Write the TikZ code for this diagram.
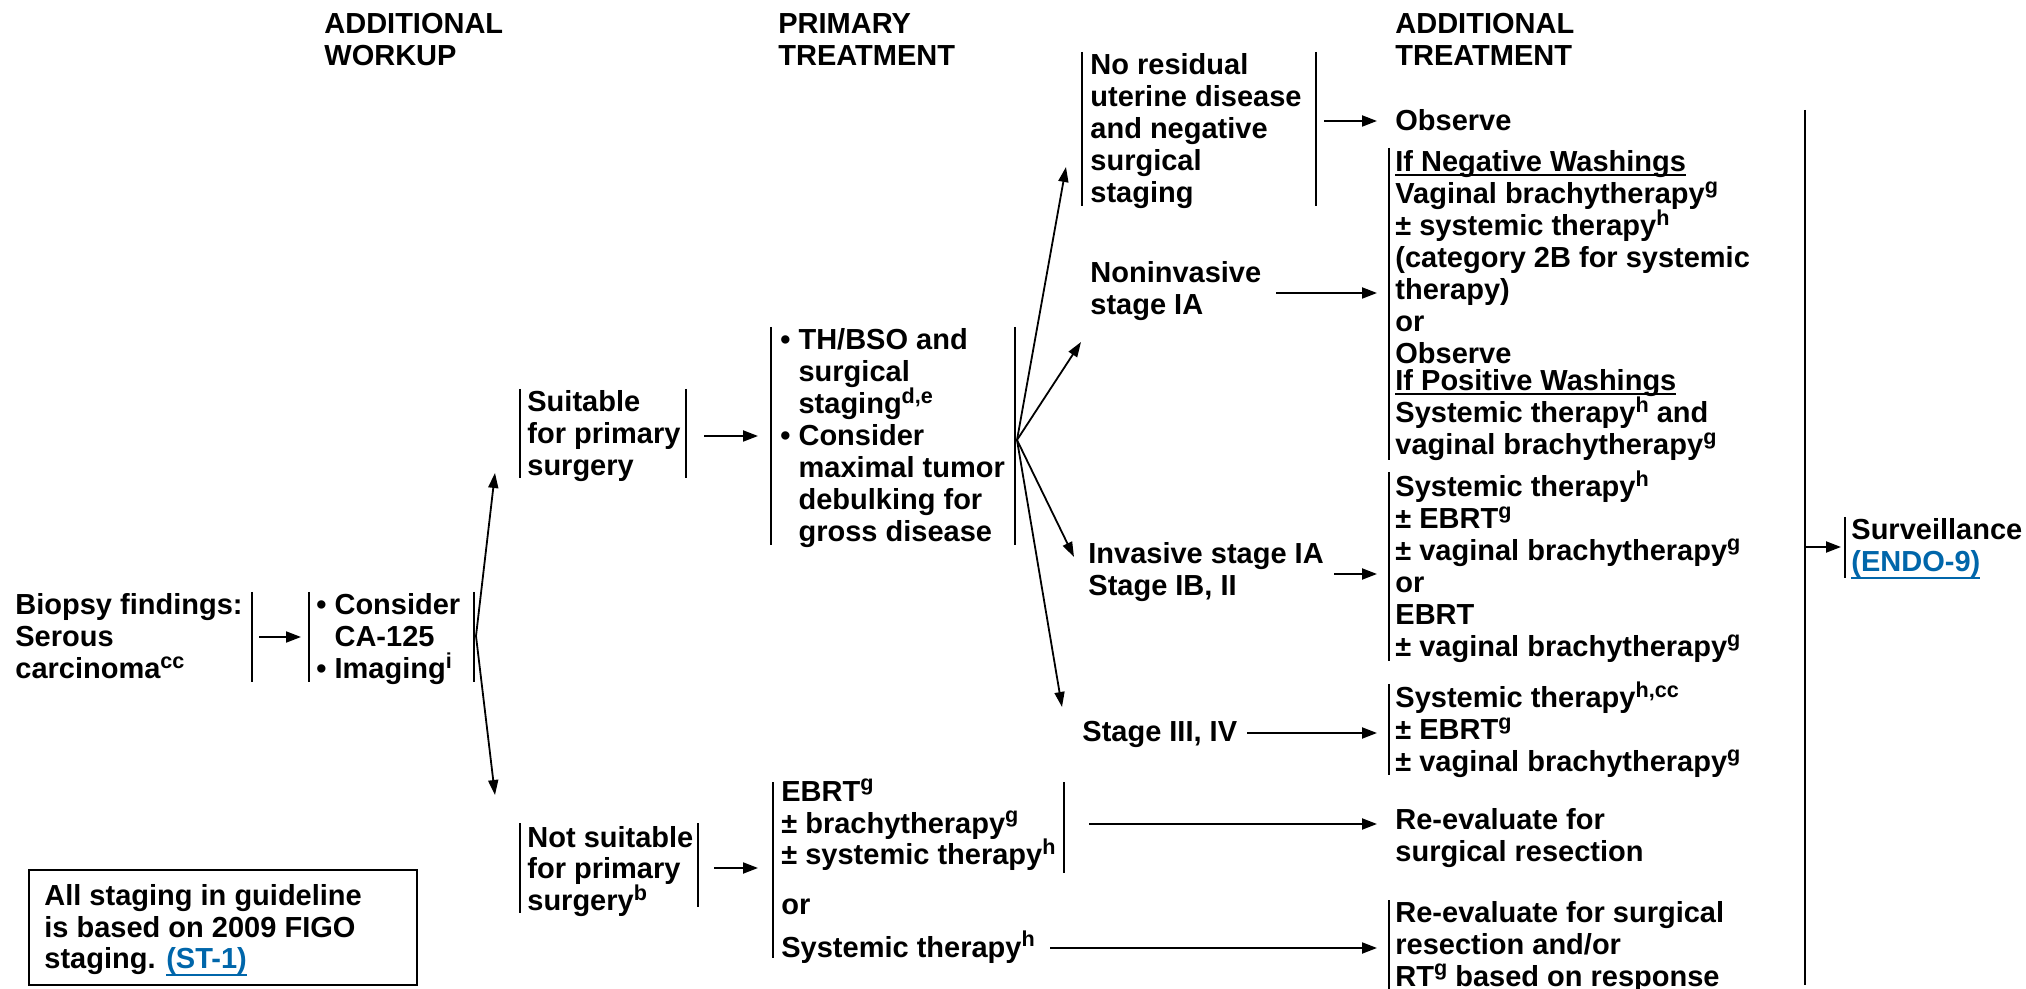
\documentclass[tikz,border=0pt]{standalone}
\usepackage{fontspec}
\setmainfont{Liberation Sans}
\usetikzlibrary{arrows.meta}
\definecolor{linkblue}{RGB}{0,102,170}
\newcommand\sups[1]{\smash{\raisebox{5.3pt}{\fontsize{10.8}{10.8}\selectfont #1}}}
\newcommand\blk[1]{\begin{tabular}[t]{@{}l@{}}#1\end{tabular}}
\newcommand\ulin[2]{{\setbox0\hbox{#2}\rlap{\rule[#1]{\wd0}{0.9pt}}\box0}}
\newcommand\lnk[1]{\textcolor{linkblue}{\ulin{-3.6pt}{#1}}}
\newcommand\ind{\hphantom{• }}
\begin{document}
\begin{tikzpicture}[x=0.5pt,y=-0.5pt,
  txt/.style={inner sep=0pt,anchor=base west,font=\fontsize{14.5}{16}\selectfont\bfseries},
  brk/.style={line width=1pt},
  arr/.style={line width=1pt,-{Triangle[length=7.5pt,width=5.5pt]}},
  fan/.style={line width=0.9pt,-{Triangle[length=7.5pt,width=5pt]}}]
\useasboundingbox (0,0) rectangle (2026,989);

% headers
\node[txt] (h1) at (324,34) {\blk{ADDITIONAL\\WORKUP}};
\node[txt] (h2) at (778,34) {\blk{PRIMARY\\TREATMENT}};
\node[txt] (h3) at (1395,34) {\blk{ADDITIONAL\\TREATMENT}};

% biopsy and workup
\node[txt] (bio) at (15,615) {\blk{Biopsy findings:\\Serous\\carcinoma\sups{cc}}};
\draw[brk] (252,592) -- (252,682);
\node[txt] (wk) at (316,615) {\blk{• Consider\\\ind CA-125\\• Imaging\sups{i}}};
\draw[brk] (309,592) -- (309,682);
\draw[brk] (474,592) -- (474,682);
\coordinate (bioR) at (259,637);
\coordinate (wkL) at (301,637);
\draw[arr] (bioR) -- (wkL);
\coordinate (wkR) at (476,636);

% suitable
\node[txt] (suit) at (527,412) {\blk{Suitable\\for primary\\surgery}};
\draw[brk] (520,389) -- (520,478);
\draw[brk] (686,389) -- (686,478);
\coordinate (suitIn) at (495,473);
\draw[fan] (wkR) -- (suitIn);
\coordinate (suitR) at (704,436);
\coordinate (thL) at (758,436);
\draw[arr] (suitR) -- (thL);

% TH/BSO
\node[txt] (th) at (780,350) {\blk{• TH/BSO and\\\ind surgical\\\ind staging\sups{d,e}\\• Consider\\\ind maximal tumor\\\ind debulking for\\\ind gross disease}};
\draw[brk] (771,327) -- (771,545);
\draw[brk] (1015,327) -- (1015,545);
\coordinate (thR) at (1017,440);

% stages
\node[txt] (nores) at (1090,75) {\blk{No residual\\uterine disease\\and negative\\surgical\\staging}};
\draw[brk] (1082,52) -- (1082,206);
\draw[brk] (1316,52) -- (1316,206);
\coordinate (noresIn) at (1066,167);
\draw[fan] (thR) -- (noresIn);

\node[txt] (nonin) at (1090,283) {\blk{Noninvasive\\stage IA}};
\coordinate (noninIn) at (1081,342);
\draw[fan] (thR) -- (noninIn);

\node[txt] (inv) at (1088,564) {\blk{Invasive stage IA\\Stage IB, II}};
\coordinate (invIn) at (1074,557);
\draw[fan] (thR) -- (invIn);

\node[txt] (st3) at (1082,741) {Stage III, IV};
\coordinate (st3In) at (1062,707);
\draw[fan] (thR) -- (st3In);

% additional treatment
\node[txt] (obs) at (1395,131) {Observe};
\coordinate (noresR) at (1324,121);
\coordinate (obsL) at (1377,121);
\draw[arr] (noresR) -- (obsL);

\node[txt] (neg) at (1395,172) {\blk{\ulin{-1.8pt}{If Negative Washings}\\Vaginal brachytherapy\sups{g}\\± systemic therapy\sups{h}\\(category 2B for systemic\\therapy)\\or\\Observe\\[-2.5pt]\ulin{-1.8pt}{If Positive Washings}\\Systemic therapy\sups{h} and\\vaginal brachytherapy\sups{g}}};
\draw[brk] (1389,148) -- (1389,460);
\coordinate (noninR) at (1276,293);
\coordinate (negL) at (1377,293);
\draw[arr] (noninR) -- (negL);

\node[txt] (invT) at (1395,497) {\blk{Systemic therapy\sups{h}\\± EBRT\sups{g}\\± vaginal brachytherapy\sups{g}\\or\\EBRT\\± vaginal brachytherapy\sups{g}}};
\draw[brk] (1389,472) -- (1389,661);
\coordinate (invR) at (1334,574);
\coordinate (invTL) at (1377,574);
\draw[arr] (invR) -- (invTL);

\node[txt] (st3T) at (1395,708) {\blk{Systemic therapy\sups{h,cc}\\± EBRT\sups{g}\\± vaginal brachytherapy\sups{g}}};
\draw[brk] (1389,684) -- (1389,775);
\coordinate (st3R) at (1247,733);
\coordinate (st3TL) at (1377,733);
\draw[arr] (st3R) -- (st3TL);

% surveillance
\draw[brk] (1805,110) -- (1805,985);
\node[txt] (surv) at (1851,540) {\blk{Surveillance\\\lnk{(ENDO-9)}}};
\draw[brk] (1845,517) -- (1845,578);
\coordinate (longR) at (1805,547);
\coordinate (survL) at (1841,547);
\draw[arr] (longR) -- (survL);

% not suitable
\node[txt] (nots) at (527,847) {\blk{Not suitable\\for primary\\surgery\sups{b}}};
\draw[brk] (520,823) -- (520,913);
\draw[brk] (698,823) -- (698,907);
\coordinate (notsIn) at (495,795);
\draw[fan] (wkR) -- (notsIn);
\coordinate (notsR) at (714,868);
\coordinate (ebL) at (758,868);
\draw[arr] (notsR) -- (ebL);

\node[txt] (eb) at (781,801) {\blk{EBRT\sups{g}\\± brachytherapy\sups{g}\\± systemic therapy\sups{h}\\[8.5pt]or\\[5.5pt]Systemic therapy\sups{h}}};
\draw[brk] (773,782) -- (773,958);
\draw[brk] (1064,782) -- (1064,873);

\node[txt] (reev1) at (1395,829) {\blk{Re-evaluate for\\surgical resection}};
\coordinate (ebR) at (1089,824);
\coordinate (reev1L) at (1377,824);
\draw[arr] (ebR) -- (reev1L);

\node[txt] (reev2) at (1395,922) {\blk{Re-evaluate for surgical\\resection and/or\\RT\sups{g} based on response}};
\draw[brk] (1389,900) -- (1389,989);
\coordinate (sysR) at (1050,948);
\coordinate (reev2L) at (1377,948);
\draw[arr] (sysR) -- (reev2L);

% staging note
\node[draw,line width=1pt,inner sep=0pt,minimum width=194pt,minimum height=57.5pt,anchor=north west] (notebox) at (28,869) {};
\node[txt] (note) at (44,905) {\blk{All staging in guideline\\is based on 2009 FIGO\\staging. \lnk{(ST-1)}}};
\end{tikzpicture}
\end{document}
